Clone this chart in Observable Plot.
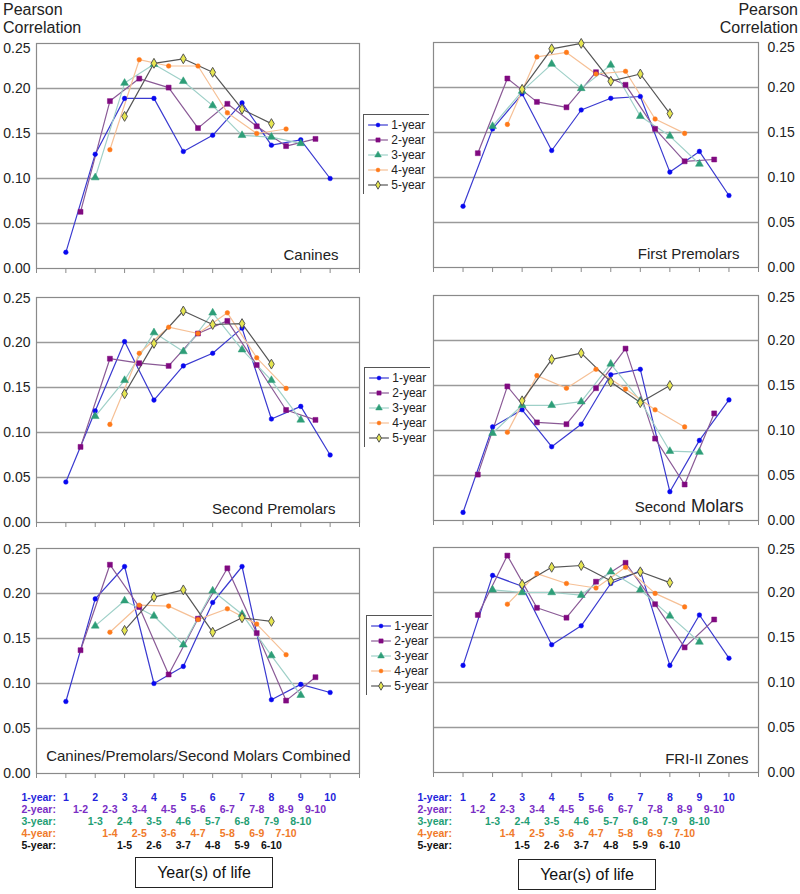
<!DOCTYPE html>
<html><head><meta charset="utf-8">
<script src="https://cdn.jsdelivr.net/npm/d3@7"></script>
<script src="https://cdn.jsdelivr.net/npm/@observablehq/plot@0.6"></script>
<style>
body{margin:0;background:#fff;font-family:Arial,"Liberation Sans",sans-serif;}
#root{position:relative;width:800px;height:894px;overflow:hidden;background:#fff;}
.ylab{font-size:16px;line-height:18px;color:#222;}
.xbox{border:1.5px solid #222;font-size:16px;color:#111;display:flex;align-items:center;justify-content:center;box-sizing:border-box;}
</style></head><body><div id="root"></div>
<script>
// ---- data ----
const series = ["1-year","2-year","3-year","4-year","5-year"];
const x1 = [1,2,3,4,5,6,7,8,9,10];
const x2 = [1.5,2.5,3.5,4.5,5.5,6.5,7.5,8.5,9.5];
const x3 = [2,3,4,5,6,7,8,9];
const x4 = [2.5,3.5,4.5,5.5,6.5,7.5,8.5];
const x5 = [3,4,5,6,7,8];
const lab1 = ["1","2","3","4","5","6","7","8","9","10"];
const lab2 = ["1-2","2-3","3-4","4-5","5-6","6-7","7-8","8-9","9-10"];
const lab3 = ["1-3","2-4","3-5","4-6","5-7","6-8","7-9","8-10"];
const lab4 = ["1-4","2-5","3-6","4-7","5-8","6-9","7-10"];
const lab5 = ["1-5","2-6","3-7","4-8","5-9","6-10"];
const xTicks = [0,1,2,3,4,5,6,7,8,9,10,11];
const yTicks = [0,0.05,0.10,0.15,0.20];
const yTop = [0.25];
const gridVals = [0.05,0.10,0.15,0.20];

const canines = [
  [0.018,0.127,0.189,0.189,0.130,0.148,0.184,0.137,0.143,0.100],
  [0.063,0.186,0.211,0.201,0.156,0.183,0.158,0.136,0.144],
  [0.101,0.206,0.227,0.208,0.181,0.148,0.146,0.139],
  [0.132,0.232,0.225,0.225,0.173,0.150,0.155],
  [0.169,0.228,0.233,0.218,0.177,0.161]
];
const firstPremolars = [
  [0.068,0.154,0.193,0.130,0.175,0.188,0.190,0.106,0.129,0.080],
  [0.127,0.210,0.184,0.178,0.217,0.203,0.154,0.118,0.120],
  [0.157,0.196,0.226,0.199,0.225,0.168,0.146,0.115],
  [0.159,0.234,0.239,0.215,0.218,0.165,0.149],
  [0.198,0.243,0.249,0.207,0.215,0.171]
];
const secondPremolars = [
  [0.045,0.124,0.201,0.136,0.174,0.188,0.216,0.115,0.129,0.075],
  [0.084,0.182,0.177,0.174,0.210,0.224,0.175,0.125,0.114],
  [0.118,0.158,0.211,0.190,0.233,0.192,0.158,0.114],
  [0.109,0.188,0.217,0.210,0.233,0.183,0.149],
  [0.143,0.199,0.235,0.220,0.221,0.176]
];
const secondMolars = [
  [0.009,0.104,0.123,0.082,0.107,0.162,0.168,0.032,0.089,0.134],
  [0.051,0.149,0.109,0.107,0.147,0.191,0.091,0.040,0.119],
  [0.097,0.128,0.128,0.132,0.174,0.133,0.077,0.076],
  [0.098,0.161,0.147,0.168,0.146,0.123,0.104],
  [0.133,0.179,0.186,0.154,0.131,0.150]
];
const combined = [
  [0.080,0.194,0.230,0.100,0.119,0.190,0.230,0.082,0.099,0.090],
  [0.137,0.232,0.185,0.110,0.172,0.228,0.156,0.081,0.107],
  [0.164,0.192,0.175,0.143,0.203,0.177,0.131,0.087],
  [0.157,0.187,0.186,0.171,0.183,0.166,0.132],
  [0.159,0.196,0.204,0.157,0.173,0.169]
];
const friZones = [
  [0.119,0.219,0.207,0.142,0.163,0.210,0.224,0.119,0.175,0.127],
  [0.175,0.241,0.183,0.172,0.212,0.233,0.187,0.139,0.170],
  [0.203,0.200,0.200,0.197,0.223,0.203,0.174,0.145],
  [0.187,0.221,0.210,0.205,0.228,0.199,0.184],
  [0.209,0.228,0.230,0.213,0.223,0.211]
];

// ---- styles ----
const positions = [x1,x2,x3,x4,x5];
const labels = [lab1,lab2,lab3,lab4,lab5];
const lineColors = ["#3a3ad0","#8a5a96","#9fd0c8","#f6c096","#555555"];
const markFill = ["#0808f0","#800a80","#2e9e78","#ff7a1a","#e6e650"];
const markStroke = ["#0808f0","#800a80","#2e9e78","#ff7a1a","#555555"];
const symbols = ["circle","square","triangle","circle","diamond"];
const radii = [2.3,2.8,2.9,2.3,3.0];
const rowColors = ["#2424dc","#7a2ec4","#1f9e74","#f07a2a","#111111"];
const FONT = "Arial, 'Liberation Sans', sans-serif";

const root = document.getElementById("root");
function place(el, left, top){ el.style.position="absolute"; el.style.left=left+"px"; el.style.top=top+"px"; root.appendChild(el); return el; }

function seriesMarks(data){
  const marks = [];
  series.forEach((s,i)=>{
    const rows = positions[i].map((x,j)=>({series:s, x, y:data[i][j]}));
    marks.push(Plot.line(rows,{x:"x",y:"y",stroke:lineColors[i],strokeWidth:1.2}));
  });
  series.forEach((s,i)=>{
    const rows = positions[i].map((x,j)=>({series:s, x, y:data[i][j]}));
    marks.push(Plot.dot(rows,{x:"x",y:"y",symbol:symbols[i],r:radii[i],fill:markFill[i],stroke:markStroke[i],strokeWidth:i===4?1:0.5}));
  });
  return marks;
}

function panel(data, side, titleMarks, topShift){
  const left = side==="left";
  return Plot.plot({
    width: left?362:400, height:245,
    marginLeft: left?36:33, marginRight: left?3:42, marginTop:10, marginBottom:10,
    x:{domain:[0,11], axis:null},
    y:{domain:[0,0.25], axis:null},
    style:{fontFamily:FONT, fontSize:"14px", color:"#222", background:"transparent", overflow:"visible"},
    marks:[
      Plot.ruleY(gridVals,{stroke:"#9a9a9a",strokeWidth:1.3}),
      Plot.frame({stroke:"#8a8a8a",strokeWidth:1.2}),
      Plot.axisX(xTicks,{tickSize:5,tickFormat:()=>"",stroke:"#8a8a8a",label:null}),
      Plot.axisY(yTicks,{anchor:side,tickSize:0,tickPadding:left?6:9,tickFormat:d3.format(".2f"),fontSize:14,label:null}),
      Plot.axisY(yTop,{anchor:side,tickSize:0,tickPadding:left?6:9,tickFormat:d3.format(".2f"),fontSize:14,label:null,dy:topShift}),
      ...seriesMarks(data),
      ...titleMarks
    ]
  });
}
function title(t, dx, dy=-9, fs=15){
  return Plot.text([t],{frameAnchor:"bottom-right",textAnchor:"end",lineAnchor:"bottom",dx,dy,fontSize:fs,fill:"#222"});
}

// y-axis titles
const tl = document.createElement("div"); tl.className="ylab"; tl.innerHTML="Pearson<br>Correlation"; place(tl,3,1);
const tr = document.createElement("div"); tr.className="ylab"; tr.style.textAlign="right"; tr.innerHTML="Pearson<br>Correlation"; place(tr,690,1); tr.style.width="108px";

// panels
place(panel(canines,"left",[title("Canines",-21)],5),0,33);
place(panel(firstPremolars,"right",[title("First Premolars",-19)],5),400,32);
place(panel(secondPremolars,"left",[title("Second Premolars",-24)],1),0,287);
place(panel(secondMolars,"right",[title("Molars",-15,-9,17.5), title("Second",-73)],2),400,285);
place(panel(combined,"left",[title("Canines/Premolars/Second Molars Combined",-9,-13)],1),0,538);
place(panel(friZones,"right",[title("FRI-II Zones",-10)],2),400,537);

// legends
function legend(){
  const marks = [Plot.frame({stroke:"#555",strokeWidth:1,fill:"#fff"})];
  series.forEach((s,i)=>{
    marks.push(Plot.link([s],{x1:0.07,x2:0.37,y1:d=>d,y2:d=>d,stroke:lineColors[i],strokeWidth:1.2}));
    marks.push(Plot.dot([s],{x:0.22,y:d=>d,symbol:symbols[i],r:radii[i]*0.85,fill:markFill[i],stroke:markStroke[i],strokeWidth:i===4?1:0.5}));
  });
  marks.push(Plot.text(series,{x:0.42,y:d=>d,text:d=>d,textAnchor:"start",fontSize:12,fill:"#222"}));
  return Plot.plot({
    width:66,height:80,margin:0,
    x:{domain:[0,1],axis:null},
    y:{type:"band",domain:series,padding:0,axis:null,inset:2},
    style:{fontFamily:FONT,background:"transparent"},
    marks
  });
}
place(legend(),363,114);
place(legend(),364,367);
place(legend(),366,615);

// bottom tick-label rows
function tickRows(side){
  const left = side==="left";
  const marks = [];
  series.forEach((s,i)=>{
    marks.push(Plot.text([s+":"],{y:()=>s,frameAnchor:"left",textAnchor:"start",dx:left?-15:-16,fontSize:10.5,fontWeight:"bold",fill:rowColors[i]}));
    const rows = positions[i].map((x,j)=>({x,label:labels[i][j],s}));
    marks.push(Plot.text(rows,{x:"x",y:"s",text:"label",fontSize:10.5,fontWeight:"bold",fill:rowColors[i]}));
  });
  return Plot.plot({
    width:left?362:400,height:62,
    marginLeft:left?36:33,marginRight:left?3:42,marginTop:0,marginBottom:0,
    x:{domain:[0,11],axis:null},
    y:{type:"band",domain:series,padding:0,axis:null},
    style:{fontFamily:FONT,background:"transparent",overflow:"visible"},
    marks
  });
}
place(tickRows("left"),0,790);
place(tickRows("right"),400,790);

// x-axis title boxes
const b1 = document.createElement("div"); b1.className="xbox"; b1.textContent="Year(s) of life";
b1.style.width="138px"; b1.style.height="31px"; place(b1,135,857);
const b2 = document.createElement("div"); b2.className="xbox"; b2.textContent="Year(s) of life";
b2.style.width="138px"; b2.style.height="31px"; place(b2,518,859);
</script>
</body></html>
